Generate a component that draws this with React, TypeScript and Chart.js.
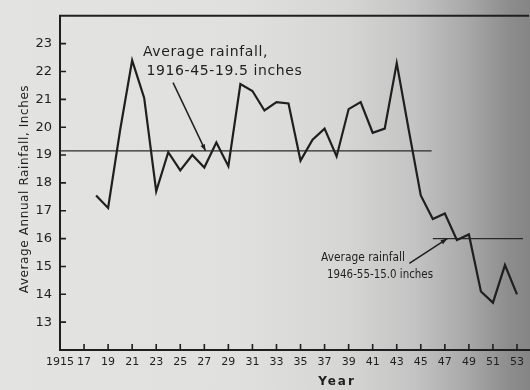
import React, { useEffect, useRef } from "react";
import { Chart, registerables } from "chart.js";

Chart.register(...registerables);

// ---- data ----
const years = [
  1918, 1919, 1920, 1921, 1922, 1923, 1924, 1925, 1926, 1927, 1928, 1929,
  1930, 1931, 1932, 1933, 1934, 1935, 1936, 1937, 1938, 1939, 1940, 1941,
  1942, 1943, 1944, 1945, 1946, 1947, 1948, 1949, 1950, 1951, 1952, 1953,
];
const rainfall = [
  17.55, 17.1, 19.9, 22.4, 21.05, 17.7, 19.1, 18.45, 19.0, 18.55, 19.45, 18.6,
  21.55, 21.3, 20.6, 20.9, 20.85, 18.8, 19.55, 19.95, 18.95, 20.65, 20.9, 19.8,
  19.95, 22.3, 19.9, 17.55, 16.7, 16.9, 15.95, 16.15, 14.1, 13.7, 15.05, 14.0,
];
const avg1Years = [1915, 1945.9];
const avg1Value = 19.15;
const avg2Years = [1946, 1953.5];
const avg2Value = 16.0;

const yTickValues = [13, 14, 15, 16, 17, 18, 19, 20, 21, 22, 23];
const xTickYears = [
  1915, 1917, 1919, 1921, 1923, 1925, 1927, 1929, 1931, 1933, 1935, 1937,
  1939, 1941, 1943, 1945, 1947, 1949, 1951, 1953,
];
const xTickLabels = [
  "1915", "17", "19", "21", "23", "25", "27", "29", "31", "33", "35", "37",
  "39", "41", "43", "45", "47", "49", "51", "53",
];

const yTitle = "Average Annual Rainfall, Inches";
const xTitle = "Year";
const note1Lines = ["Average rainfall,", "1916-45-19.5 inches"];
const note2Lines = ["Average rainfall", "1946-55-15.0 inches"];

const INK = "#1f1f1f";
const FONT = "'DejaVu Sans', sans-serif";

function arrow(ctx: CanvasRenderingContext2D, x1: number, y1: number, x2: number, y2: number) {
  ctx.beginPath();
  ctx.moveTo(x1, y1);
  ctx.lineTo(x2, y2);
  ctx.stroke();
  const a = Math.atan2(y2 - y1, x2 - x1);
  const L = 7;
  ctx.beginPath();
  ctx.moveTo(x2, y2);
  ctx.lineTo(x2 - L * Math.cos(a - 0.35), y2 - L * Math.sin(a - 0.35));
  ctx.lineTo(x2 - L * Math.cos(a + 0.35), y2 - L * Math.sin(a + 0.35));
  ctx.closePath();
  ctx.fill();
}

const decorPlugin = {
  id: "decor",
  afterDatasetsDraw(chart: any) {
    const { ctx, chartArea } = chart;
    const x = chart.scales.x;
    const y = chart.scales.y;
    ctx.save();
    ctx.strokeStyle = INK;
    ctx.fillStyle = INK;
    // top frame line
    ctx.lineWidth = 2;
    ctx.beginPath();
    ctx.moveTo(chartArea.left - 1, chartArea.top);
    ctx.lineTo(chartArea.right, chartArea.top);
    ctx.stroke();
    // inward tick marks
    ctx.lineWidth = 1.6;
    ctx.beginPath();
    yTickValues.forEach((v) => {
      const py = y.getPixelForValue(v);
      ctx.moveTo(chartArea.left, py);
      ctx.lineTo(chartArea.left + 6, py);
    });
    xTickYears.slice(1).forEach((v) => {
      const px = x.getPixelForValue(v);
      ctx.moveTo(px, chartArea.bottom);
      ctx.lineTo(px, chartArea.bottom - 6);
    });
    ctx.stroke();

    // annotation 1 (1916-45 average)
    ctx.save();
    ctx.font = `14px ${FONT}`;
    (ctx as any).letterSpacing = "0.6px";
    ctx.textBaseline = "middle";
    ctx.textAlign = "left";
    ctx.fillText(note1Lines[0], x.getPixelForValue(1921.9), y.getPixelForValue(22.67));
    ctx.fillText(note1Lines[1], x.getPixelForValue(1922.2), y.getPixelForValue(22.0));
    ctx.restore();
    ctx.lineWidth = 1.5;
    arrow(ctx, x.getPixelForValue(1924.4), y.getPixelForValue(21.6), x.getPixelForValue(1927.1), y.getPixelForValue(avg1Value));

    // annotation 2 (1946-55 average)
    ctx.font = `13px ${FONT}`;
    ctx.textBaseline = "middle";
    ctx.textAlign = "left";
    ctx.fillText(note2Lines[0], x.getPixelForValue(1936.7), y.getPixelForValue(15.32), 84);
    ctx.fillText(note2Lines[1], x.getPixelForValue(1937.2), y.getPixelForValue(14.69), 106);
    arrow(ctx, x.getPixelForValue(1944.05), y.getPixelForValue(15.11), x.getPixelForValue(1947.2), y.getPixelForValue(avg2Value));

    // axis titles
    ctx.font = `12px ${FONT}`;
    ctx.textAlign = "center";
    ctx.save();
    ctx.translate(25, 189);
    ctx.rotate(-Math.PI / 2);
    (ctx as any).letterSpacing = "0.6px";
    ctx.fillText(yTitle, 0, 0);
    ctx.restore();
    ctx.font = `bold 12px ${FONT}`;
    (ctx as any).letterSpacing = "2px";
    ctx.fillText(xTitle, 337, 382);
    ctx.restore();
  },
};

export default function App() {
  const ref = useRef<HTMLCanvasElement | null>(null);
  useEffect(() => {
    if (!ref.current) return;
    const chart = new Chart(ref.current, {
      type: "line",
      data: {
        datasets: [
          {
            data: years.map((yr, i) => ({ x: yr, y: rainfall[i] })),
            borderColor: INK,
            borderWidth: 2.2,
            pointRadius: 0,
            tension: 0,
            fill: false,
          },
          {
            data: avg1Years.map((yr) => ({ x: yr, y: avg1Value })),
            borderColor: "#2a2a2a",
            borderWidth: 1.3,
            pointRadius: 0,
            fill: false,
          },
          {
            data: avg2Years.map((yr) => ({ x: yr, y: avg2Value })),
            borderColor: "#2a2a2a",
            borderWidth: 1.3,
            pointRadius: 0,
            fill: false,
          },
        ],
      },
      options: {
        animation: false,
        responsive: false,
        maintainAspectRatio: false,
        layout: { padding: { top: 7, left: 0, right: 0, bottom: 0 } },
        plugins: { legend: { display: false }, tooltip: { enabled: false }, title: { display: false } },
        scales: {
          x: {
            type: "linear",
            min: 1915,
            max: 1954,
            afterBuildTicks: (s: any) => {
              s.ticks = xTickYears.map((v) => ({ value: v }));
            },
            afterFit: (s: any) => {
              s.height = 40;
            },
            ticks: {
              autoSkip: false,
              maxRotation: 0,
              padding: 6,
              color: INK,
              font: { family: FONT, size: 11 },
              callback: (v: any) => {
                const i = xTickYears.indexOf(Number(v));
                return i >= 0 ? xTickLabels[i] : "";
              },
            },
            grid: { drawOnChartArea: false, drawTicks: false },
            border: { display: true, color: INK, width: 2 },
          },
          y: {
            type: "linear",
            min: 12,
            max: 24,
            afterBuildTicks: (s: any) => {
              s.ticks = yTickValues.map((v) => ({ value: v }));
            },
            afterFit: (s: any) => {
              s.width = 60;
            },
            ticks: {
              autoSkip: false,
              padding: 8,
              color: INK,
              font: { family: FONT, size: 13 },
              callback: (v: any) => String(v),
            },
            grid: { drawOnChartArea: false, drawTicks: false },
            border: { display: true, color: INK, width: 2 },
          },
        },
      },
      plugins: [decorPlugin],
    } as any);
    return () => chart.destroy();
  }, []);

  return (
    <div
      style={{
        position: "fixed",
        left: 0,
        top: 0,
        width: 530,
        height: 390,
        overflow: "hidden",
        background:
          "linear-gradient(to right, #e3e3e1 0%, #e0e0de 45%, #d6d6d5 65%, #c4c4c4 78%, #a9a9a9 88%, #8d8d8d 96%, #858585 100%)",
      }}
    >
      <canvas ref={ref} width={530} height={390} style={{ display: "block" }} />
    </div>
  );
}
